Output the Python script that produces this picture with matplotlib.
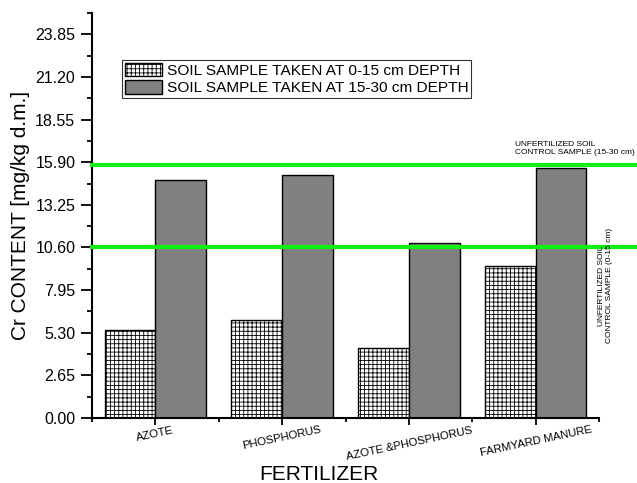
import matplotlib.pyplot as plt
import numpy as np

plt.rcParams.update({
    "font.family": ["Liberation Sans", "DejaVu Sans"],
    "hatch.linewidth": 0.6,
})

CATEGORIES = ["AZOTE", "PHOSPHORUS", "AZOTE &PHOSPHORUS", "FARMYARD MANURE"]
DEPTH_0_15 = [5.49, 6.07, 4.38, 9.43]
DEPTH_15_30 = [14.78, 15.09, 10.89, 15.52]
CONTROL_0_15 = 10.60
CONTROL_15_30 = 15.73
YTICKS = [0.00, 2.65, 5.30, 7.95, 10.60, 13.25, 15.90, 18.55, 21.20, 23.85]

fig = plt.figure(figsize=(6.37, 4.83), dpi=100)
ax = fig.add_axes([0.1444, 0.1346, 0.7960, 0.8385])

x = np.arange(1, len(CATEGORIES) + 1)
w = 0.4
ax.bar(x - w / 2, DEPTH_0_15, w, color="white", edgecolor="black", hatch="++++",
       linewidth=1.0, label="SOIL SAMPLE TAKEN AT 0-15 cm DEPTH", zorder=2)
ax.bar(x + w / 2, DEPTH_15_30, w, color="#808080", edgecolor="black",
       linewidth=1.0, label="SOIL SAMPLE TAKEN AT 15-30 cm DEPTH", zorder=2)

green = "#11ee11"
ax.axhline(CONTROL_15_30, xmin=0, xmax=1.075, color=green, lw=3, clip_on=False, zorder=3)
ax.axhline(CONTROL_0_15, xmin=0, xmax=1.075, color=green, lw=3, clip_on=False, zorder=3)

ax.text(3.84, 16.3, "UNFERTILIZED SOIL\nCONTROL SAMPLE (15-30 cm)", fontsize=6,
        ha="left", va="bottom", linespacing=1.1)
ax.text(4.55, 4.65, "UNFERTILIZED SOIL\nCONTROL SAMPLE (0-15 cm)", fontsize=6,
        ha="center", va="bottom", rotation=90, linespacing=1.1)

ax.set_xlim(0.5, 4.5)
ax.set_ylim(0, 25.1)
ax.set_yticks(YTICKS)
ax.set_yticklabels([f"{v:.2f}" for v in YTICKS])
ax.set_yticks([v + 1.325 for v in YTICKS], minor=True)
ax.set_xticks(x)
ax.set_xticklabels(CATEGORIES, rotation=12, fontsize=8.2)
ax.set_xticks([0.5, 1.5, 2.5, 3.5, 4.5], minor=True)
ax.tick_params(axis="y", labelsize=11.5)
ax.tick_params(axis="y", which="major", direction="out", length=8, width=1.3, pad=4)
ax.tick_params(axis="y", which="minor", direction="out", length=3.8, width=1.3)
ax.tick_params(axis="x", which="major", direction="out", length=5, width=1.3, pad=0)
ax.tick_params(axis="x", which="minor", direction="out", length=3, width=1.3)

for s in ["top", "right"]:
    ax.spines[s].set_visible(False)
for s in ["left", "bottom"]:
    ax.spines[s].set_linewidth(1.5)

ax.set_ylabel("Cr CONTENT [mg/kg d.m.]", fontsize=15, labelpad=4)
ax.set_xlabel("FERTILIZER", fontsize=15)
ax.xaxis.set_label_coords(0.448, -0.115, transform=ax.transAxes)

leg = ax.legend(loc="upper left", bbox_to_anchor=(0.059, 0.884), borderaxespad=0,
                fontsize=11.1, frameon=True, fancybox=False, edgecolor="black",
                handlelength=2.4, handleheight=0.95, handletextpad=0.3,
                labelspacing=0.15, borderpad=0.2)
leg.get_frame().set_linewidth(0.8)

fig.savefig("out.png", dpi=100)
